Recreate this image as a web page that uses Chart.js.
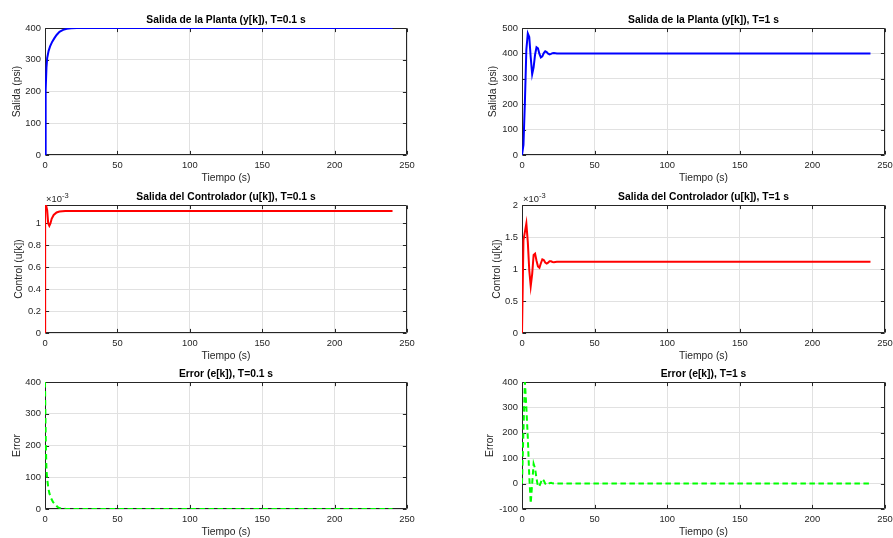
<!DOCTYPE html>
<html>
<head>
<meta charset="utf-8">
<script src="https://cdn.jsdelivr.net/npm/chart.js@4.4.0/dist/chart.umd.min.js"></script>
<style>
  html, body { margin: 0; padding: 0; background: #fff; }
  body { width: 893px; height: 538px; position: relative; overflow: hidden; }
  canvas { position: absolute; display: block; }
</style>
</head>
<body>
<script>
const FONT = '"Liberation Sans", Arial, Helvetica, sans-serif';
const INK = '#262626';
const GRID = '#e1e1e1';

// eje de tiempo comun
const timeTicks = [0, 50, 100, 150, 200, 250];

// ---- T = 0.1 s ----
const tPlanta01 = [0, 0.3, 0.6, 1, 1.5, 2.5, 3.5, 5, 6.5, 8, 10, 12.5, 15, 18, 22, 240];
const yPlanta01 = [0, 120, 205, 275, 305, 328, 342, 357, 368, 378, 388, 394, 397.5, 399.5, 400, 400];

const tCtrl01 = [0, 0.1, 0.8, 1.5, 2.2, 3, 3.8, 4.6, 6, 8, 10, 14, 20, 240];
const uCtrl01 = [0, 1.166, 1.16, 1.12, 1.0, 0.976, 1.0, 1.04, 1.075, 1.098, 1.107, 1.112, 1.112, 1.112]; // x10^-3

const tErr01 = [0, 0.3, 0.6, 1, 1.5, 2.3, 3, 4, 5.5, 7, 8.5, 10, 12, 15, 240];
const eErr01 = [400, 290, 200, 125, 95, 66, 50, 36, 22, 14, 7, 3, 1, 0, 0];

// ---- T = 1 s ----
const tiempo1 = [0, 1, 2, 3, 4, 5, 6, 7, 8, 9, 10, 11, 12, 13, 14, 15, 16, 17, 18, 19, 20, 21, 22, 23, 24, 240];
const yPlanta1 = [0, 40, 210, 415, 479, 465, 385, 318, 345, 395, 424, 420, 398, 384, 388, 401, 408, 405, 399, 396, 398, 401, 402, 401, 400, 400];
const uCtrl1 = [0, 1.45, 1.58, 1.71, 1.42, 0.98, 0.73, 0.92, 1.22, 1.24, 1.13, 1.04, 1.02, 1.09, 1.15, 1.14, 1.10, 1.085, 1.10, 1.12, 1.12, 1.11, 1.105, 1.11, 1.112, 1.112]; // x10^-3
const eErr1 = [0, 210, 400, 300, 180, 30, -78, 0, 78, 60, 20, -12, -10, 5, 19, 12, 0, -6, -3, 2, 3, 1, 0, 0, 0, 0];

// ticks del eje y
const yTicksPlanta01 = [0, 100, 200, 300, 400];
const yTicksPlanta1 = [0, 100, 200, 300, 400, 500];
const uTicks01 = [0, 0.2, 0.4, 0.6, 0.8, 1];
const uTicks1 = [0, 0.5, 1, 1.5, 2];
const eTicks01 = [0, 100, 200, 300, 400];
const eTicks1 = [-100, 0, 100, 200, 300, 400];

// geometria de los subplots (px)
const colLeft = [45, 522], colRight = [407, 885];
const rowTop = [28, 205, 382], rowBottom = [155, 333, 509];
const canvasX = [0, 460], canvasW = [446, 445];

const panels = [
  { row: 0, col: 0, title: 'Salida de la Planta (y[k]), T=0.1 s', ylabel: 'Salida (psi)', labelX: 16.7,
    t: tPlanta01, v: yPlanta01, color: '#0000ff', dash: [], min: 0, max: 400, ticks: yTicksPlanta01 },
  { row: 0, col: 1, title: 'Salida de la Planta (y[k]), T=1 s', ylabel: 'Salida (psi)', labelX: 33.3,
    t: tiempo1, v: yPlanta1, color: '#0000ff', dash: [], min: 0, max: 500, ticks: yTicksPlanta1 },
  { row: 1, col: 0, title: 'Salida del Controlador (u[k]), T=0.1 s', ylabel: 'Control (u[k])', labelX: 18.7,
    t: tCtrl01, v: uCtrl01, color: '#ff0000', dash: [], min: 0, max: Math.max(...uCtrl01), ticks: uTicks01, exp: true },
  { row: 1, col: 1, title: 'Salida del Controlador (u[k]), T=1 s', ylabel: 'Control (u[k])', labelX: 36.7,
    t: tiempo1, v: uCtrl1, color: '#ff0000', dash: [], min: 0, max: 2, ticks: uTicks1, exp: true },
  { row: 2, col: 0, title: 'Error (e[k]), T=0.1 s', ylabel: 'Error', labelX: 16.7,
    t: tErr01, v: eErr01, color: '#00ff00', dash: [5.5, 3.5], min: 0, max: 400, ticks: eTicks01 },
  { row: 2, col: 1, title: 'Error (e[k]), T=1 s', ylabel: 'Error', labelX: 30,
    t: tiempo1, v: eErr1, color: '#00ff00', dash: [5.5, 3.5], min: -100, max: 400, ticks: eTicks1 }
];

// caja estilo MATLAB con ticks hacia dentro, titulo y exponente
const matlabFrame = {
  id: 'matlabFrame',
  beforeDatasetsDraw(chart) {
    const { ctx, chartArea: a, scales: { x, y } } = chart;
    const L = Math.round(a.left) + 0.5, R = Math.round(a.right) - 0.5;
    const T = Math.round(a.top) + 0.5, B = Math.round(a.bottom) - 0.5;
    const tl = 3.6;
    ctx.save();
    ctx.strokeStyle = INK;
    ctx.lineWidth = 1;
    ctx.beginPath();
    ctx.rect(L, T, R - L, B - T);
    x.ticks.forEach(tk => {
      const px = Math.round(x.getPixelForValue(tk.value)) + 0.5;
      ctx.moveTo(px, B); ctx.lineTo(px, B - tl);
      ctx.moveTo(px, T); ctx.lineTo(px, T + tl);
    });
    y.ticks.forEach(tk => {
      const py = Math.round(y.getPixelForValue(tk.value)) + 0.5;
      ctx.moveTo(L, py); ctx.lineTo(L + tl, py);
      ctx.moveTo(R, py); ctx.lineTo(R - tl, py);
    });
    ctx.stroke();
    ctx.restore();
  },
  afterDraw(chart, args, opts) {
    const { ctx, chartArea: a } = chart;
    ctx.save();
    ctx.fillStyle = '#000';
    ctx.font = 'bold 10.3px ' + FONT;
    ctx.textAlign = 'center';
    ctx.textBaseline = 'middle';
    ctx.fillText(opts.title, (a.left + a.right) / 2, a.top - 8);
    if (opts.exp) {
      ctx.fillStyle = INK;
      ctx.textAlign = 'left';
      ctx.font = '9.4px ' + FONT;
      ctx.fillText('\u00d710', a.left + 1, a.top - 6);
      const w = ctx.measureText('\u00d710').width;
      ctx.font = '7.5px ' + FONT;
      ctx.fillText('-3', a.left + 1 + w, a.top - 9.5);
    }
    ctx.restore();
  }
};

panels.forEach(p => {
  const cx = canvasX[p.col], cw = canvasW[p.col];
  const top = rowTop[p.row] - 28;
  const ch = rowBottom[p.row] - rowTop[p.row] + 28 + 45;
  const canvas = document.createElement('canvas');
  canvas.width = cw;
  canvas.height = ch;
  canvas.style.left = cx + 'px';
  canvas.style.top = top + 'px';
  document.body.appendChild(canvas);

  new Chart(canvas, {
    type: 'line',
    data: {
      datasets: [{
        data: p.t.map((t, i) => ({ x: t, y: p.v[i] })),
        borderColor: p.color,
        borderWidth: 2,
        borderDash: p.dash,
        pointRadius: 0,
        tension: 0,
        fill: false
      }]
    },
    options: {
      responsive: false,
      animation: false,
      events: [],
      layout: { padding: { left: 0, top: 28, right: cw - (colRight[p.col] - cx), bottom: 0 } },
      plugins: {
        legend: { display: false },
        tooltip: { enabled: false },
        matlabFrame: { title: p.title, exp: !!p.exp }
      },
      scales: {
        x: {
          type: 'linear',
          min: 0,
          max: 250,
          afterBuildTicks: s => { s.ticks = timeTicks.map(v => ({ value: v })); },
          afterFit: s => { s.height = 45; },
          grid: { color: GRID, lineWidth: 1, drawTicks: false },
          border: { display: false },
          ticks: { padding: 5, maxRotation: 0, autoSkip: false, color: INK,
                   font: { family: FONT, size: 9.4 }, callback: v => String(v) },
          title: { display: true, text: 'Tiempo (s)', color: INK,
                   font: { family: FONT, size: 10.3 }, padding: { top: 0, bottom: 15.8 } }
        },
        y: {
          type: 'linear',
          min: p.min,
          max: p.max,
          afterBuildTicks: s => { s.ticks = p.ticks.map(v => ({ value: v })); },
          afterFit: s => { s.width = colLeft[p.col] - cx; },
          grid: { color: GRID, lineWidth: 1, drawTicks: false },
          border: { display: false },
          ticks: { padding: 4, autoSkip: false, color: INK,
                   font: { family: FONT, size: 9.4 }, callback: v => String(v) },
          title: { display: true, text: p.ylabel, color: INK,
                   font: { family: FONT, size: 10.3 }, padding: { top: p.labelX - 6.18, bottom: 0 } }
        }
      }
    },
    plugins: [matlabFrame]
  });
});
</script>
</body>
</html>
